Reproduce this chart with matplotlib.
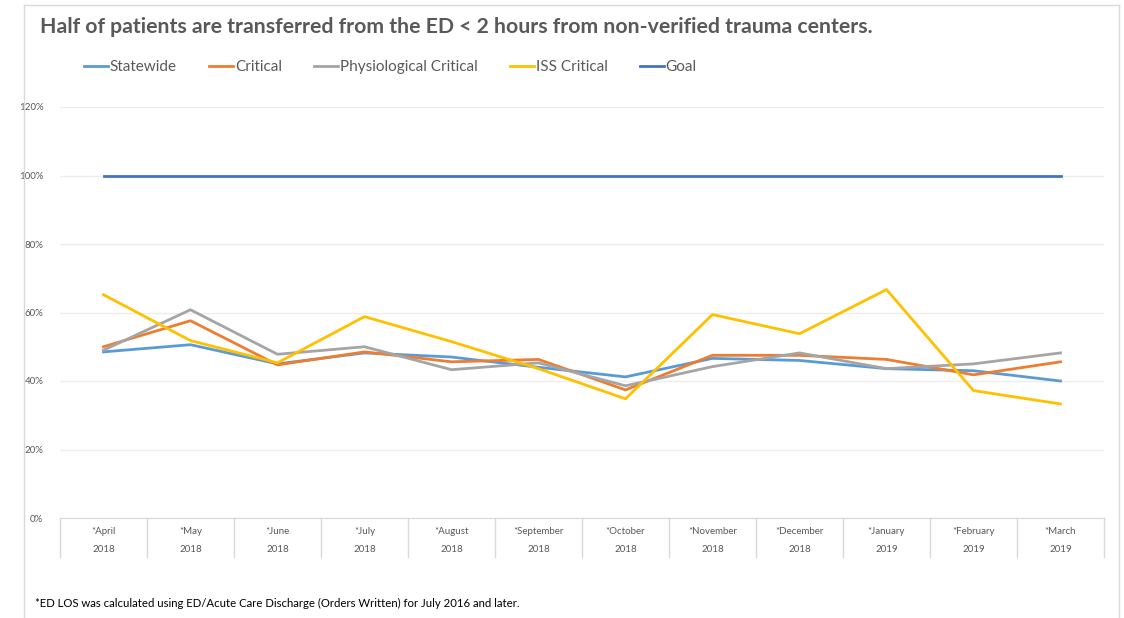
import matplotlib.pyplot as plt
from matplotlib.lines import Line2D
import numpy as np

plt.rcParams['font.family'] = ['Lato', 'DejaVu Sans']

months = ['*April', '*May', '*June', '*July', '*August', '*September',
          '*October', '*November', '*December', '*January', '*February', '*March']
years = ['2018'] * 9 + ['2019'] * 3

statewide = [48.5, 50.6, 45.0, 48.2, 47.0, 44.0, 41.2, 46.6, 46.0, 43.6, 43.0, 40.0]
critical = [50.0, 57.6, 44.7, 48.5, 45.6, 46.3, 37.4, 47.5, 47.5, 46.3, 41.8, 45.6]
physio = [49.0, 60.8, 47.8, 50.0, 43.3, 45.3, 38.6, 44.2, 48.2, 43.6, 45.0, 48.2]
iss = [65.2, 51.8, 45.3, 58.8, 51.5, 43.6, 34.8, 59.4, 53.8, 66.7, 37.2, 33.3]
goal = [100] * 12

names = ['Statewide', 'Critical', 'Physiological Critical', 'ISS Critical', 'Goal']
colors = ['#5B9BD5', '#ED7D31', '#A5A5A5', '#FFC000', '#4472C4']
series = [statewide, critical, physio, iss, goal]

fig = plt.figure(figsize=(11.24, 6.18), dpi=100)
W, H = 1124, 618

# outer chart frame
fig.add_artist(Line2D([24 / W, 24 / W], [0, 1 - 5 / H], color='#D9D9D9', lw=1))
fig.add_artist(Line2D([1119 / W, 1119 / W], [0, 1 - 5 / H], color='#D9D9D9', lw=1))
fig.add_artist(Line2D([24 / W, 1119 / W], [1 - 5 / H, 1 - 5 / H], color='#D9D9D9', lw=1))

ax = fig.add_axes([60 / W, 1 - 518 / H, (1104 - 60) / W, (518 - 107) / H])
x = np.arange(len(months))
for s, n, c in zip(series, names, colors):
    ax.plot(x, s, color=c, lw=2, label=n)

ax.set_xlim(-0.5, len(months) - 0.5)
ax.set_ylim(0, 120)
ax.set_yticks(range(0, 121, 20))
ax.set_yticklabels([f'{v}%' for v in range(0, 121, 20)], fontsize=7, color='#595959')
ax.tick_params(axis='y', length=0, pad=12)
ax.set_xticks([])
ax.grid(axis='y', color='#EDEDED', lw=1)
ax.set_axisbelow(True)
for sp in ['top', 'right', 'left']:
    ax.spines[sp].set_visible(False)
ax.spines['bottom'].set_color('#D9D9D9')

# category table under axis
for i in range(len(months) + 1):
    ax.plot([i - 0.5, i - 0.5], [0, -11.4], color='#D9D9D9', lw=1, clip_on=False)
for i, (m, yr) in enumerate(zip(months, years)):
    ax.text(i, -3.8, m, ha='center', va='center', fontsize=7, color='#595959')
    ax.text(i, -9.3, yr, ha='center', va='center', fontsize=7, color='#595959')

fig.text(40 / W, 1 - 27 / H, 'Half of patients are transferred from the ED < 2 hours from non-verified trauma centers.',
         fontsize=15.3, fontweight='bold', color='#595959', va='center')

fig.legend(loc='center left', bbox_to_anchor=(70 / W, 1 - 67 / H), ncol=5, frameon=False,
           fontsize=11, handlelength=1.6, handletextpad=0.1, columnspacing=2.1,
           labelcolor='#595959')

fig.text(35 / W, 1 - 603 / H, '*ED LOS was calculated using ED/Acute Care Discharge (Orders Written) for July 2016 and later.',
         fontsize=8.2, color='black', va='center')

fig.savefig('out.png', dpi=100)
